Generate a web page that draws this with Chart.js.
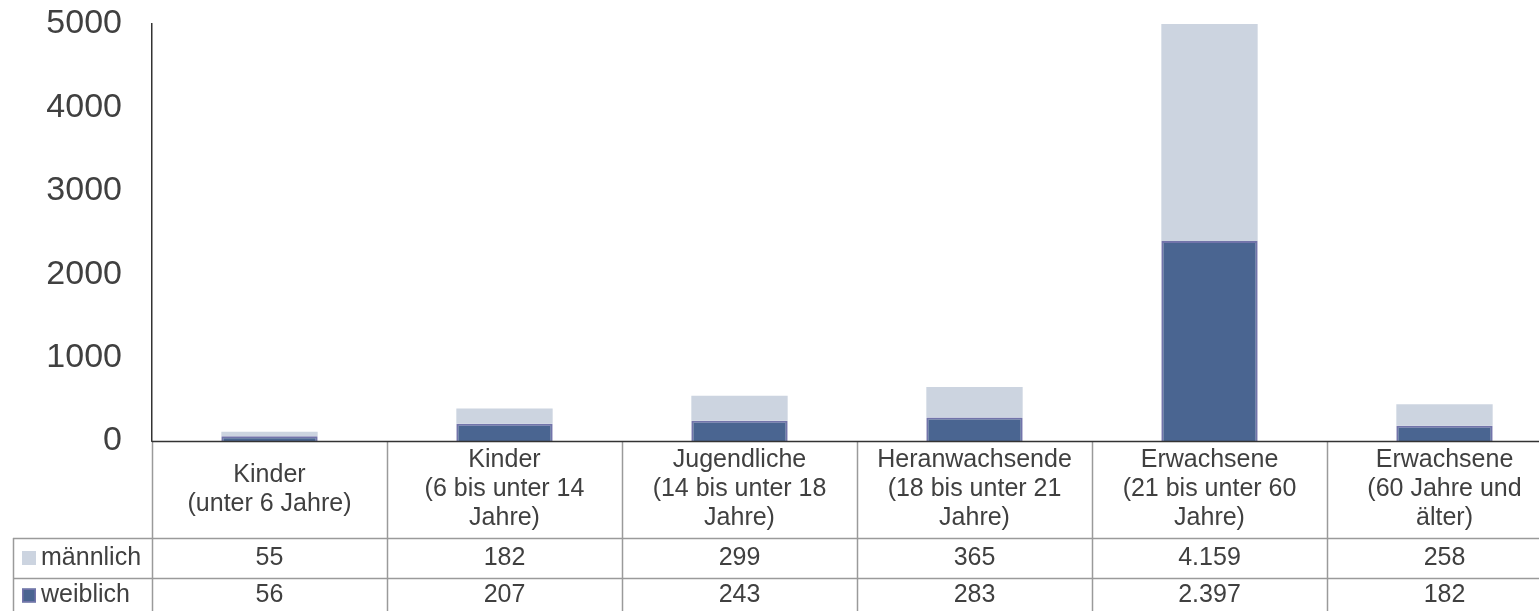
<!DOCTYPE html>
<html>
<head>
<meta charset="utf-8">
<script src="https://cdn.jsdelivr.net/npm/chart.js@4"></script>
<style>
  html, body { margin: 0; padding: 0; background: #fff; overflow: hidden; }
  #wrap { width: 1562px; height: 611px; position: relative; }
</style>
</head>
<body>
<div id="wrap"><canvas id="chart"></canvas></div>
<script>
  const categories = [
    ["Kinder", "(unter 6 Jahre)"],
    ["Kinder", "(6 bis unter 14", "Jahre)"],
    ["Jugendliche", "(14 bis unter 18", "Jahre)"],
    ["Heranwachsende", "(18 bis unter 21", "Jahre)"],
    ["Erwachsene", "(21 bis unter 60", "Jahre)"],
    ["Erwachsene", "(60 Jahre und", "älter)"],
  ];
  const maennlich = [55, 182, 299, 365, 4159, 258];
  const weiblich = [56, 207, 243, 283, 2397, 182];
  const yTicks = [0, 1000, 2000, 3000, 4000, 5000];

  const FONT = '"Liberation Sans", Arial, sans-serif';
  const TEXT = "#404040";
  const LIGHT = "#CCD4E0";
  const DARK = "#4A6591";
  const DARK_BORDER = "#7274AA";

  function fmt(v) {
    return String(v).replace(/\B(?=(\d{3})+(?!\d))/g, ".");
  }

  const dataTable = {
    id: "dataTable",
    afterDraw(chart) {
      const { ctx, chartArea } = chart;
      const x = chart.scales.x;
      const w = x.getPixelForValue(1) - x.getPixelForValue(0);
      const left = x.getPixelForValue(0) - w / 2;
      const bottom = chartArea.bottom;
      const H = chart.height;
      const rowTop1 = 538, rowTop2 = 578;
      const rightEdge = chart.width;

      ctx.save();
      // table grid
      ctx.strokeStyle = "#9A9A9A";
      ctx.lineWidth = 1.5;
      ctx.beginPath();
      for (let i = 0; i <= categories.length; i++) {
        const px = Math.round(left + i * w) + 0.5;
        ctx.moveTo(px, bottom);
        ctx.lineTo(px, H);
      }
      ctx.moveTo(13.5, rowTop1);
      ctx.lineTo(13.5, H);
      ctx.moveTo(13, rowTop1 + 0.5);
      ctx.lineTo(rightEdge, rowTop1 + 0.5);
      ctx.moveTo(13, rowTop2 + 0.5);
      ctx.lineTo(rightEdge, rowTop2 + 0.5);
      ctx.stroke();

      // x axis line
      ctx.strokeStyle = "#333";
      ctx.lineWidth = 1.5;
      ctx.beginPath();
      ctx.moveTo(left, bottom + 0.5);
      ctx.lineTo(rightEdge, bottom + 0.5);
      ctx.stroke();

      // category labels
      ctx.fillStyle = TEXT;
      ctx.font = "25px " + FONT;
      ctx.textAlign = "center";
      ctx.textBaseline = "middle";
      const mid = (bottom + rowTop1) / 2;
      const lh = 29;
      categories.forEach((lines, i) => {
        const cx = x.getPixelForValue(i);
        const y0 = mid - ((lines.length - 1) * lh) / 2;
        lines.forEach((t, j) => ctx.fillText(t, cx, y0 + j * lh));
      });

      // value rows
      const rows = [
        { name: "männlich", data: maennlich, color: LIGHT, border: null, y: (rowTop1 + rowTop2) / 2 },
        { name: "weiblich", data: weiblich, color: DARK, border: DARK_BORDER, y: (rowTop2 + H) / 2 + 1 },
      ];
      rows.forEach((r) => {
        ctx.textAlign = "center";
        r.data.forEach((v, i) => ctx.fillText(fmt(v), x.getPixelForValue(i), r.y));
        ctx.fillStyle = r.color;
        ctx.fillRect(22, r.y - 7, 14, 14);
        if (r.border) {
          ctx.strokeStyle = r.border;
          ctx.lineWidth = 1.5;
          ctx.strokeRect(22.75, r.y - 6.25, 12.5, 12.5);
        }
        ctx.fillStyle = TEXT;
        ctx.textAlign = "left";
        ctx.fillText(r.name, 41, r.y);
      });
      ctx.restore();
    },
  };

  new Chart(document.getElementById("chart"), {
    type: "bar",
    data: {
      labels: categories,
      datasets: [
        { label: "weiblich", data: weiblich, backgroundColor: DARK, borderColor: DARK_BORDER, borderWidth: 2, clip: 0 },
        { label: "männlich", data: maennlich, backgroundColor: LIGHT, borderWidth: 0, clip: 0 },
      ],
    },
    options: {
      responsive: true,
      maintainAspectRatio: false,
      animation: false,
      layout: { padding: { top: 24, bottom: 170, left: 0, right: 0 } },
      plugins: { legend: { display: false }, tooltip: { enabled: false } },
      datasets: { bar: { barPercentage: 0.41, categoryPercentage: 1 } },
      scales: {
        x: { stacked: true, display: false },
        y: {
          stacked: true,
          min: 0,
          max: 5000,
          afterBuildTicks: (s) => { s.ticks = yTicks.map((v) => ({ value: v })); },
          afterFit: (s) => { s.width = 152; s.paddingTop = 0; s.paddingBottom = 0; },
          grid: { display: false, drawTicks: false },
          border: { display: true, color: "#333", width: 1.5 },
          ticks: { color: TEXT, padding: 30, font: { family: FONT, size: 34 }, callback: (v) => String(v) },
        },
      },
    },
    plugins: [dataTable],
  });
</script>
</body>
</html>
